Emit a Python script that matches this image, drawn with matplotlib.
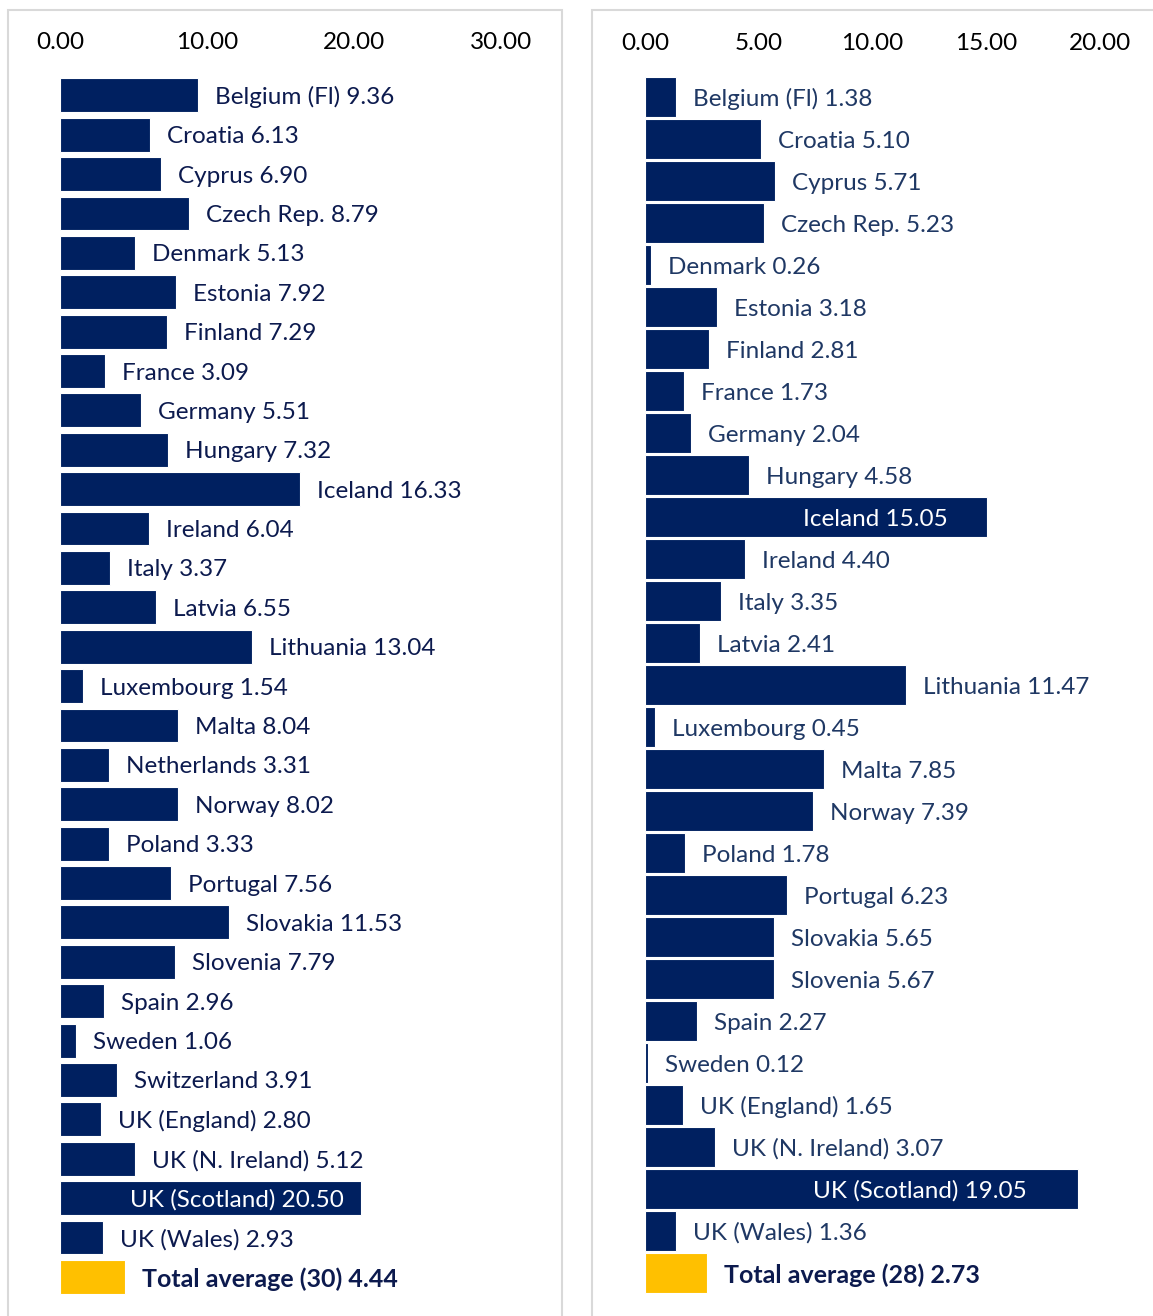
import matplotlib
matplotlib.use("Agg")
import matplotlib.pyplot as plt
from matplotlib.patches import Rectangle

plt.rcParams['font.family'] = ['Lato', 'DejaVu Sans']

# left panel: 29 systems + total average
left_names = ['Belgium (Fl)', 'Croatia', 'Cyprus', 'Czech Rep.', 'Denmark', 'Estonia',
              'Finland', 'France', 'Germany', 'Hungary', 'Iceland', 'Ireland', 'Italy',
              'Latvia', 'Lithuania', 'Luxembourg', 'Malta', 'Netherlands', 'Norway',
              'Poland', 'Portugal', 'Slovakia', 'Slovenia', 'Spain', 'Sweden',
              'Switzerland', 'UK (England)', 'UK (N. Ireland)', 'UK (Scotland)', 'UK (Wales)']
left_values = [9.36, 6.13, 6.90, 8.79, 5.13, 7.92, 7.29, 3.09, 5.51, 7.32, 16.33, 6.04,
               3.37, 6.55, 13.04, 1.54, 8.04, 3.31, 8.02, 3.33, 7.56, 11.53, 7.79, 2.96,
               1.06, 3.91, 2.80, 5.12, 20.50, 2.93]
left_total_label = 'Total average (30)'
left_total = 4.44
left_ticks = [0, 10, 20, 30]

# right panel: 28 systems + total average
right_names = ['Belgium (Fl)', 'Croatia', 'Cyprus', 'Czech Rep.', 'Denmark', 'Estonia',
               'Finland', 'France', 'Germany', 'Hungary', 'Iceland', 'Ireland', 'Italy',
               'Latvia', 'Lithuania', 'Luxembourg', 'Malta', 'Norway', 'Poland',
               'Portugal', 'Slovakia', 'Slovenia', 'Spain', 'Sweden', 'UK (England)',
               'UK (N. Ireland)', 'UK (Scotland)', 'UK (Wales)']
right_values = [1.38, 5.10, 5.71, 5.23, 0.26, 3.18, 2.81, 1.73, 2.04, 4.58, 15.05, 4.40,
                3.35, 2.41, 11.47, 0.45, 7.85, 7.39, 1.78, 6.23, 5.65, 5.67, 2.27, 0.12,
                1.65, 3.07, 19.05, 1.36]
right_total_label = 'Total average (28)'
right_total = 2.73
right_ticks = [0, 5, 10, 15, 20]

NAVY = '#002060'
GOLD = '#FFC000'
FS = 17.5

W, H = 1153, 1316
fig = plt.figure(figsize=(W / 100, H / 100), dpi=100)


def px_box(x0, x1, y0, y1):
    # pixel box (from top-left) -> figure fraction [left, bottom, width, height]
    return [x0 / W, 1 - y1 / H, (x1 - x0) / W, (y1 - y0) / H]


# panel frames
for x0, x1 in [(8, 562), (592, 1160)]:
    fig.patches.append(Rectangle((x0 / W, -0.01), (x1 - x0) / W, 1 - 10 / H + 0.01,
                                 transform=fig.transFigure, fill=False,
                                 edgecolor='#d9d9d9', linewidth=1.5))


def draw_panel(box, names, values, total_label, total, ticks, xmax, height,
               text_color, inside):
    ax = fig.add_axes(box)
    n = len(names) + 1
    ys = list(range(n))
    ax.barh(ys[:-1], values, height=height, color=NAVY, edgecolor='white', linewidth=0.8)
    ax.barh(ys[-1], total, height=height, color=GOLD, edgecolor='white', linewidth=0.8)
    ax.set_xlim(0, xmax)
    ax.set_ylim(n - 0.5, -0.5)
    ax.xaxis.tick_top()
    ax.set_xticks(ticks)
    ax.set_xticklabels([f'{t:.2f}' for t in ticks], fontsize=FS, color='black')
    ax.tick_params(axis='x', length=0, pad=16)
    ax.set_yticks([])
    for s in ax.spines.values():
        s.set_visible(False)
    for y, name, v in zip(ys, names, values):
        label = f'{name} {v:.2f}'
        if name in inside:
            ax.annotate(label, (v, y), xytext=(-inside[name], -2),
                        textcoords='offset pixels', ha='right', va='center',
                        fontsize=FS, color='white')
        else:
            ax.annotate(label, (v, y), xytext=(17, -2), textcoords='offset pixels',
                        ha='left', va='center', fontsize=FS, color=text_color)
    ax.annotate(f'{total_label} {total:.2f}', (total, ys[-1]), xytext=(17, -2),
                textcoords='offset pixels', ha='left', va='center', fontsize=18,
                fontweight='bold', color='#0c1a4e')
    return ax


draw_panel(px_box(60, 501, 75.6, 1296.6), left_names, left_values, left_total_label,
           left_total, left_ticks, 30, 0.86, '#0c1a4e', {'UK (Scotland)': 17})
draw_panel(px_box(645, 1100, 76, 1294), right_names, right_values, right_total_label,
           right_total, right_ticks, 20, 0.95, '#1f3864',
           {'Iceland': 40, 'UK (Scotland)': 52})

fig.savefig('out.png', dpi=100)
